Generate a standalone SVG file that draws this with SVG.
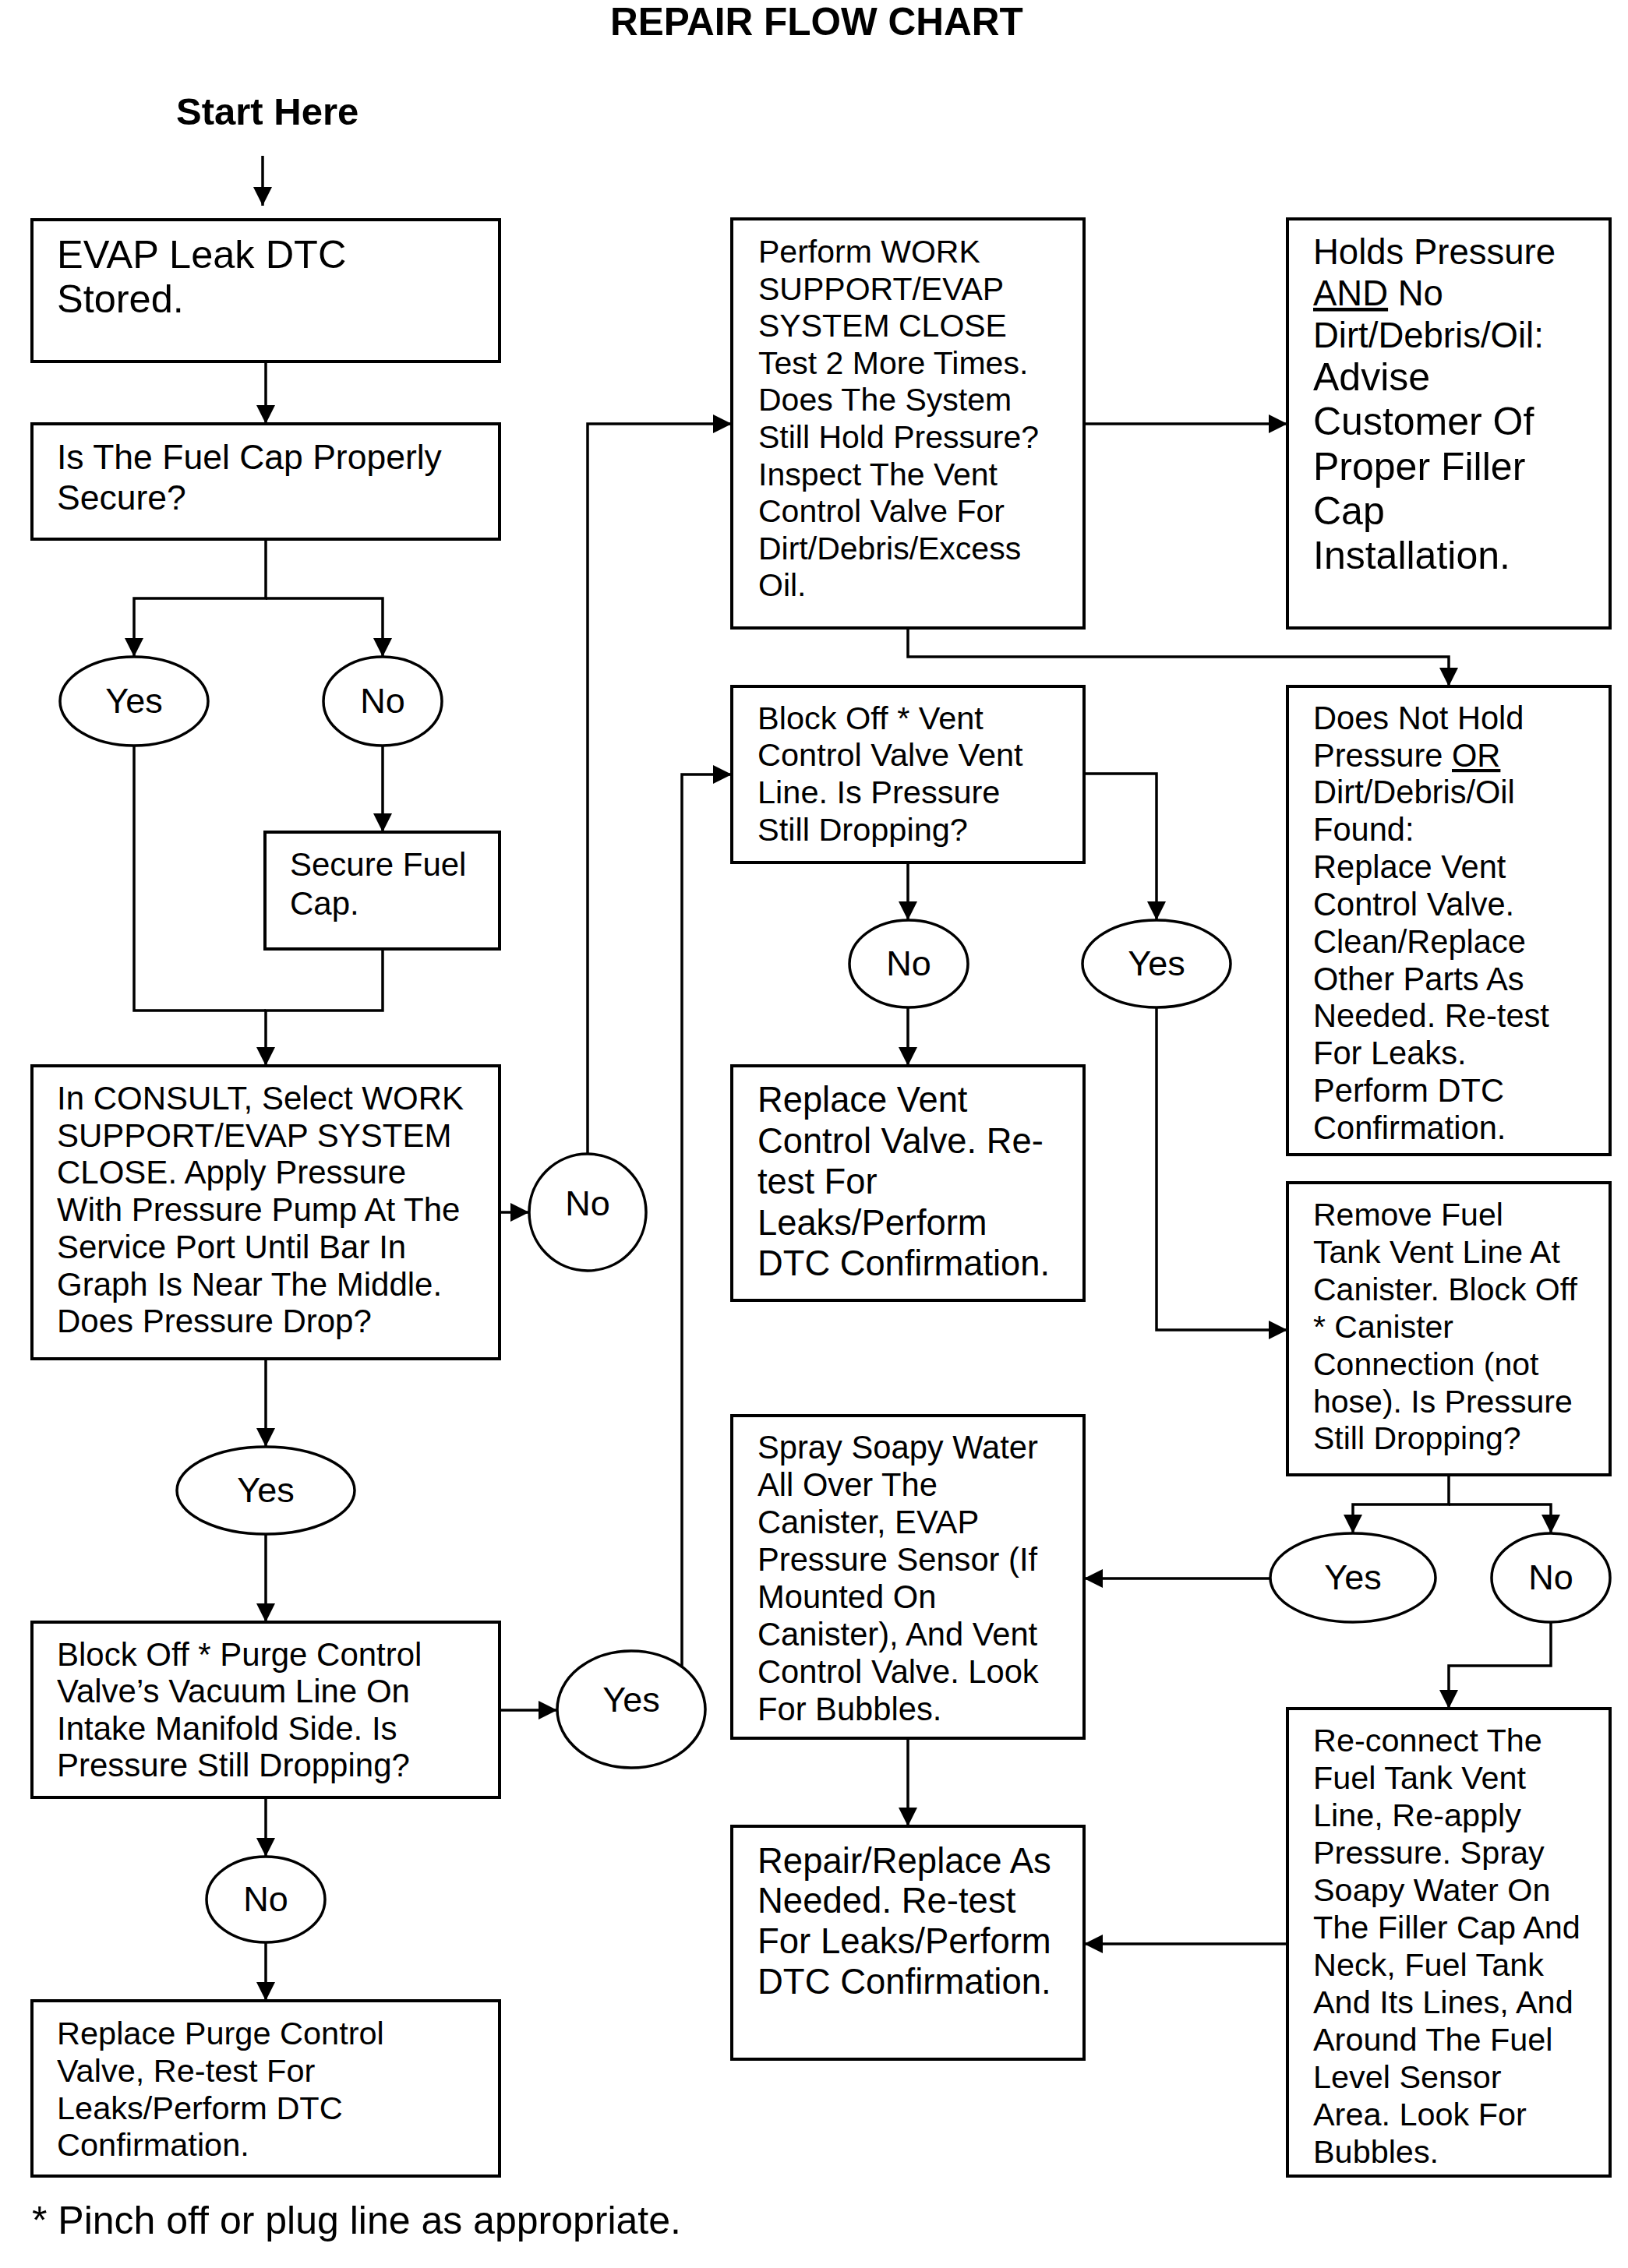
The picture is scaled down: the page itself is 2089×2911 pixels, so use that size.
<svg xmlns="http://www.w3.org/2000/svg" width="2089" height="2911" viewBox="0 0 2089 2911">
<style>
.box{fill:#fff;stroke:#000;stroke-width:4}
.ell{fill:#fff;stroke:#000;stroke-width:3.5}
.t{font-family:"Liberation Sans",Arial,sans-serif;fill:#000}
.c{text-anchor:middle;font-size:45px}
.con{fill:none;stroke:#000;stroke-width:3.5}
.u{text-decoration:underline}
</style>
<defs>
<marker id="ah" viewBox="0 0 24 24" refX="24" refY="12" markerWidth="24" markerHeight="24" markerUnits="userSpaceOnUse" orient="auto">
<path d="M0,0 L24,12 L0,24 z" fill="#000"/>
</marker>
</defs>
<rect width="2089" height="2911" fill="#fff"/>
<text class="t" x="783" y="45" font-size="49.5" font-weight="bold">REPAIR FLOW CHART</text>
<text class="t" x="226" y="160" font-size="49" font-weight="bold">Start Here</text>

<g id="connectors" class="con" marker-end="url(#ah)">
<path d="M337,200 V264"/>
<path d="M341,464 V544"/>
<path d="M341,692 V768 H172 V843"/>
<path d="M341,768 H491 V843"/>
<path d="M491,957 V1068"/>
<path d="M172,957 V1297 H341" marker-end="none"/>
<path d="M491,1218 V1297 H341 V1368"/>
<path d="M641,1556 H679"/>
<path d="M754,1481 V544 H939"/>
<path d="M341,1744 V1857"/>
<path d="M341,1969 V2082"/>
<path d="M641,2195 H715"/>
<path d="M875,2139 V994 H939"/>
<path d="M341,2307 V2383"/>
<path d="M341,2493 V2568"/>
<path d="M1391,544 H1652"/>
<path d="M1165,806 V843 H1859 V881"/>
<path d="M1165,1107 V1181"/>
<path d="M1165,1293 V1368"/>
<path d="M1391,993 H1484 V1181"/>
<path d="M1484,1293 V1707 H1652"/>
<path d="M1859,1893 V1931 H1736 V1968"/>
<path d="M1859,1931 H1990 V1968"/>
<path d="M1630,2026 H1391"/>
<path d="M1990,2082 V2138 H1859 V2193"/>
<path d="M1165,2231 V2344"/>
<path d="M1652,2495 H1391"/>
</g>

<g id="n-evap"><rect class="box" x="41" y="282" width="600" height="182"/>
<text class="t" font-size="50.5"><tspan x="73" y="344">EVAP Leak DTC</tspan><tspan x="73" y="401">Stored.</tspan></text></g>

<g id="n-fuelcap"><rect class="box" x="41" y="544" width="600" height="148"/>
<text class="t" font-size="44.5"><tspan x="73" y="602">Is The Fuel Cap Properly</tspan><tspan x="73" y="654">Secure?</tspan></text></g>

<g id="n-yes1"><ellipse class="ell" cx="172" cy="900" rx="95" ry="57"/><text class="t c" x="172" y="915">Yes</text></g>
<g id="n-no1"><ellipse class="ell" cx="491" cy="900" rx="76" ry="57"/><text class="t c" x="491" y="915">No</text></g>

<g id="n-secure"><rect class="box" x="340" y="1068" width="301" height="150"/>
<text class="t" font-size="42"><tspan x="372" y="1124">Secure Fuel</tspan><tspan x="372" y="1174">Cap.</tspan></text></g>

<g id="n-consult"><rect class="box" x="41" y="1368" width="600" height="376"/>
<text class="t" font-size="42">
<tspan x="73" y="1424">In CONSULT, Select WORK</tspan>
<tspan x="73" y="1472">SUPPORT/EVAP SYSTEM</tspan>
<tspan x="73" y="1519">CLOSE. Apply Pressure</tspan>
<tspan x="73" y="1567">With Pressure Pump At The</tspan>
<tspan x="73" y="1615">Service Port Until Bar In</tspan>
<tspan x="73" y="1663">Graph Is Near The Middle.</tspan>
<tspan x="73" y="1710">Does Pressure Drop?</tspan>
</text></g>

<g id="n-no2"><circle class="ell" cx="754" cy="1556" r="75"/><text class="t c" x="754" y="1560">No</text></g>

<g id="n-yes2"><ellipse class="ell" cx="341" cy="1913" rx="114" ry="56"/><text class="t c" x="341" y="1928">Yes</text></g>

<g id="n-blockpurge"><rect class="box" x="41" y="2082" width="600" height="225"/>
<text class="t" font-size="42">
<tspan x="73" y="2138">Block Off * Purge Control</tspan>
<tspan x="73" y="2185">Valve’s Vacuum Line On</tspan>
<tspan x="73" y="2233">Intake Manifold Side. Is</tspan>
<tspan x="73" y="2280">Pressure Still Dropping?</tspan>
</text></g>

<g id="n-yes3"><ellipse class="ell" cx="810" cy="2194" rx="95" ry="75"/><text class="t c" x="810" y="2197">Yes</text></g>

<g id="n-no3"><ellipse class="ell" cx="341" cy="2438" rx="76" ry="55"/><text class="t c" x="341" y="2453">No</text></g>

<g id="n-replacepurge"><rect class="box" x="41" y="2568" width="600" height="225"/>
<text class="t" font-size="41.5">
<tspan x="73" y="2624">Replace Purge Control</tspan>
<tspan x="73" y="2672">Valve, Re-test For</tspan>
<tspan x="73" y="2720">Leaks/Perform DTC</tspan>
<tspan x="73" y="2767">Confirmation.</tspan>
</text></g>

<text class="t" x="41" y="2867" font-size="50">* Pinch off or plug line as appropriate.</text>

<g id="n-perform"><rect class="box" x="939" y="281" width="452" height="525"/>
<text class="t" font-size="41">
<tspan x="973" y="337">Perform WORK</tspan>
<tspan x="973" y="385">SUPPORT/EVAP</tspan>
<tspan x="973" y="432">SYSTEM CLOSE</tspan>
<tspan x="973" y="480">Test 2 More Times.</tspan>
<tspan x="973" y="527">Does The System</tspan>
<tspan x="973" y="575">Still Hold Pressure?</tspan>
<tspan x="973" y="623">Inspect The Vent</tspan>
<tspan x="973" y="670">Control Valve For</tspan>
<tspan x="973" y="718">Dirt/Debris/Excess</tspan>
<tspan x="973" y="765">Oil.</tspan>
</text></g>

<g id="n-holds"><rect class="box" x="1652" y="281" width="414" height="525"/>
<text class="t" font-size="45.5">
<tspan x="1685" y="339">Holds Pressure</tspan>
<tspan x="1685" y="392"><tspan class="u">AND</tspan> No</tspan>
<tspan x="1685" y="446">Dirt/Debris/Oil:</tspan>
</text>
<text class="t" font-size="50">
<tspan x="1685" y="501">Advise</tspan>
<tspan x="1685" y="558">Customer Of</tspan>
<tspan x="1685" y="616">Proper Filler</tspan>
<tspan x="1685" y="673">Cap</tspan>
<tspan x="1685" y="730">Installation.</tspan>
</text></g>

<g id="n-blockvent"><rect class="box" x="939" y="881" width="452" height="226"/>
<text class="t" font-size="41.5">
<tspan x="972" y="936">Block Off * Vent</tspan>
<tspan x="972" y="983">Control Valve Vent</tspan>
<tspan x="972" y="1031">Line. Is Pressure</tspan>
<tspan x="972" y="1079">Still Dropping?</tspan>
</text></g>

<g id="n-no4"><ellipse class="ell" cx="1166" cy="1237" rx="76" ry="56"/><text class="t c" x="1166" y="1252">No</text></g>
<g id="n-yes4"><ellipse class="ell" cx="1484" cy="1237" rx="95" ry="56"/><text class="t c" x="1484" y="1252">Yes</text></g>

<g id="n-replacevent"><rect class="box" x="939" y="1368" width="452" height="301"/>
<text class="t" font-size="45.3">
<tspan x="972" y="1427">Replace Vent</tspan>
<tspan x="972" y="1480">Control Valve. Re-</tspan>
<tspan x="972" y="1532">test For</tspan>
<tspan x="972" y="1585">Leaks/Perform</tspan>
<tspan x="972" y="1637">DTC Confirmation.</tspan>
</text></g>

<g id="n-doesnot"><rect class="box" x="1652" y="881" width="414" height="601"/>
<text class="t" font-size="41.6">
<tspan x="1685" y="936">Does Not Hold</tspan>
<tspan x="1685" y="984">Pressure <tspan class="u">OR</tspan></tspan>
<tspan x="1685" y="1031">Dirt/Debris/Oil</tspan>
<tspan x="1685" y="1079">Found:</tspan>
<tspan x="1685" y="1127">Replace Vent</tspan>
<tspan x="1685" y="1175">Control Valve.</tspan>
<tspan x="1685" y="1223">Clean/Replace</tspan>
<tspan x="1685" y="1271">Other Parts As</tspan>
<tspan x="1685" y="1318">Needed. Re-test</tspan>
<tspan x="1685" y="1366">For Leaks.</tspan>
<tspan x="1685" y="1414">Perform DTC</tspan>
<tspan x="1685" y="1462">Confirmation.</tspan>
</text></g>

<g id="n-remove"><rect class="box" x="1652" y="1518" width="414" height="375"/>
<text class="t" font-size="41">
<tspan x="1685" y="1573">Remove Fuel</tspan>
<tspan x="1685" y="1621">Tank Vent Line At</tspan>
<tspan x="1685" y="1669">Canister. Block Off</tspan>
<tspan x="1685" y="1717">* Canister</tspan>
<tspan x="1685" y="1765">Connection (not</tspan>
<tspan x="1685" y="1813">hose). Is Pressure</tspan>
<tspan x="1685" y="1860">Still Dropping?</tspan>
</text></g>

<g id="n-yes5"><ellipse class="ell" cx="1736" cy="2025" rx="106" ry="57"/><text class="t c" x="1736" y="2040">Yes</text></g>
<g id="n-no5"><ellipse class="ell" cx="1990" cy="2025" rx="76" ry="57"/><text class="t c" x="1990" y="2040">No</text></g>

<g id="n-spray"><rect class="box" x="939" y="1817" width="452" height="414"/>
<text class="t" font-size="41.7">
<tspan x="972" y="1872">Spray Soapy Water</tspan>
<tspan x="972" y="1920">All Over The</tspan>
<tspan x="972" y="1968">Canister, EVAP</tspan>
<tspan x="972" y="2016">Pressure Sensor (If</tspan>
<tspan x="972" y="2064">Mounted On</tspan>
<tspan x="972" y="2112">Canister), And Vent</tspan>
<tspan x="972" y="2160">Control Valve. Look</tspan>
<tspan x="972" y="2208">For Bubbles.</tspan>
</text></g>

<g id="n-repair"><rect class="box" x="939" y="2344" width="452" height="299"/>
<text class="t" font-size="45.5">
<tspan x="972" y="2404">Repair/Replace As</tspan>
<tspan x="972" y="2455">Needed. Re-test</tspan>
<tspan x="972" y="2507">For Leaks/Perform</tspan>
<tspan x="972" y="2559">DTC Confirmation.</tspan>
</text></g>

<g id="n-reconnect"><rect class="box" x="1652" y="2193" width="414" height="600"/>
<text class="t" font-size="41.4">
<tspan x="1685" y="2248">Re-connect The</tspan>
<tspan x="1685" y="2296">Fuel Tank Vent</tspan>
<tspan x="1685" y="2344">Line, Re-apply</tspan>
<tspan x="1685" y="2392">Pressure. Spray</tspan>
<tspan x="1685" y="2440">Soapy Water On</tspan>
<tspan x="1685" y="2488">The Filler Cap And</tspan>
<tspan x="1685" y="2536">Neck, Fuel Tank</tspan>
<tspan x="1685" y="2584">And Its Lines, And</tspan>
<tspan x="1685" y="2632">Around The Fuel</tspan>
<tspan x="1685" y="2680">Level Sensor</tspan>
<tspan x="1685" y="2728">Area. Look For</tspan>
<tspan x="1685" y="2776">Bubbles.</tspan>
</text></g>
</svg>
